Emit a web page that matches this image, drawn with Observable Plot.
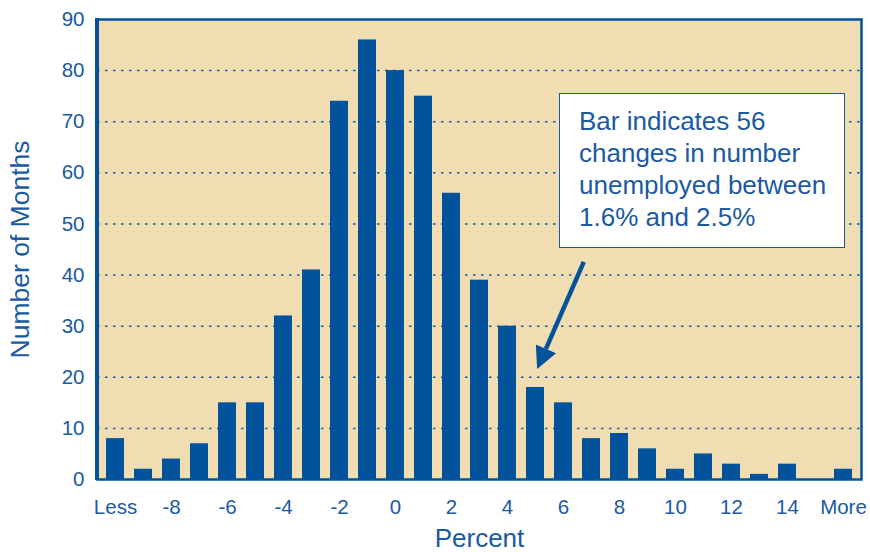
<!DOCTYPE html>
<html>
<head>
<meta charset="utf-8">
<script src="https://cdn.jsdelivr.net/npm/d3@7"></script>
<script src="https://cdn.jsdelivr.net/npm/@observablehq/plot@0.6"></script>
<style>
  html, body { margin: 0; padding: 0; background: #fff; overflow: hidden; width: 870px; height: 552px; }
  #wrap { position: relative; width: 870px; height: 552px; font-family: "Liberation Sans", Arial, sans-serif; }
  #note { position: absolute; left: 559px; top: 93px; width: 286px; height: 155px; background: #fff;
          border: 1.6px solid #1a5aa2; color: #1a5aa2; font-size: 26px; line-height: 32px;
          padding: 11px 0 0 19px; box-sizing: border-box; }
  #source { position: absolute; left: 0; top: 550px; font-size: 14px; color: #5a86bd; white-space: nowrap; }
</style>
</head>
<body>
<div id="wrap"></div>
<script>
const categories = ["Less","-9","-8","-7","-6","-5","-4","-3","-2","-1","0","1","2","3","4","5","6","7","8","9","10","11","12","13","14","15","More"];
const counts = [8,2,4,7,15,15,32,41,74,86,80,75,56,39,30,18,15,8,9,6,2,5,3,1,3,0,2];
const xTickLabels = ["Less","-8","-6","-4","-2","0","2","4","6","8","10","12","14","More"];
const yTicks = [0,10,20,30,40,50,60,70,80,90];
const gridValues = [10,20,30,40,50,60,70,80];
const noteLines = ["Bar indicates 56", "changes in number", "unemployed between", "1.6% and 2.5%"];
const arrowFrom = {cat: "7", value: 42.5};
const arrowTo = {cat: "5", value: 21.5};

(function () {
const blue = "#02529c";
const textBlue = "#1a5aa2";
const data = categories.map((c, i) => ({cat: c, n: counts[i]}));

const chart = Plot.plot({
  width: 870,
  height: 552,
  marginLeft: 97,
  marginRight: 9,
  marginTop: 19,
  marginBottom: 73,
  style: {fontFamily: "Liberation Sans, Arial, sans-serif", background: "transparent", overflow: "visible"},
  x: {domain: categories, paddingInner: 0.36, paddingOuter: 0.18, label: null},
  y: {domain: [0, 90], label: null},
  marks: [
    Plot.frame({fill: "#f0deb2", stroke: null}),
    Plot.ruleY(gridValues, {stroke: textBlue, strokeWidth: 1.5, strokeDasharray: "2.5,5.5"}),
    Plot.barY(data, {x: "cat", y: "n", fill: blue}),
    Plot.frame({stroke: blue, strokeWidth: 2.5}),
    Plot.axisX({ticks: xTickLabels, tickSize: 0, tickPadding: 20, fontSize: 20.5, color: textBlue, label: null}),
    Plot.axisY({ticks: yTicks, tickSize: 0, tickPadding: 13, fontSize: 20.5, color: textBlue, label: null}),
    Plot.text(["Number of Months"], {frameAnchor: "left", rotate: -90, textAnchor: "middle", dx: -77, fontSize: 26.5, fill: textBlue}),
    Plot.text(["Percent"], {frameAnchor: "bottom", dy: 67, fontSize: 26, fill: textBlue})
  ]
});
const wrap = document.getElementById("wrap");
wrap.appendChild(chart);
chart.style.position = "absolute";
chart.style.left = "0";
chart.style.top = "0";

// thick left border and arrow, positioned through the chart's scales
const xs = chart.scale("x"), ys = chart.scale("y");
const svg = d3.select(chart);
const xLeft = xs.range[0], yTop = ys.apply(90), yBottom = ys.apply(0);
svg.append("line").attr("x1", xLeft).attr("x2", xLeft).attr("y1", yTop - 1).attr("y2", yBottom + 1)
  .attr("stroke", blue).attr("stroke-width", 4);

const bw = xs.bandwidth;
const ax1 = xs.apply(arrowFrom.cat) + bw * 0.1, ay1 = ys.apply(arrowFrom.value);
const ax2 = xs.apply(arrowTo.cat) + bw * 0.62, ay2 = ys.apply(arrowTo.value);
const ang = Math.atan2(ay2 - ay1, ax2 - ax1);
const headL = 22, headW = 11;
const bx = ax2 - headL * Math.cos(ang), by = ay2 - headL * Math.sin(ang);
svg.append("line").attr("x1", ax1).attr("y1", ay1).attr("x2", bx).attr("y2", by)
  .attr("stroke", blue).attr("stroke-width", 4.5);
const px = -Math.sin(ang), py = Math.cos(ang);
svg.append("polygon")
  .attr("points", [[ax2, ay2], [bx + px * headW, by + py * headW], [bx - px * headW, by - py * headW]].map(p => p.join(",")).join(" "))
  .attr("fill", blue);

const note = document.createElement("div");
note.id = "note";
note.innerHTML = noteLines.join("<br>");
wrap.appendChild(note);

const src = document.createElement("div");
src.id = "source";
src.textContent = "Source: U.S. Bureau of Labor Statistics";
wrap.appendChild(src);
})();
</script>
</body>
</html>
